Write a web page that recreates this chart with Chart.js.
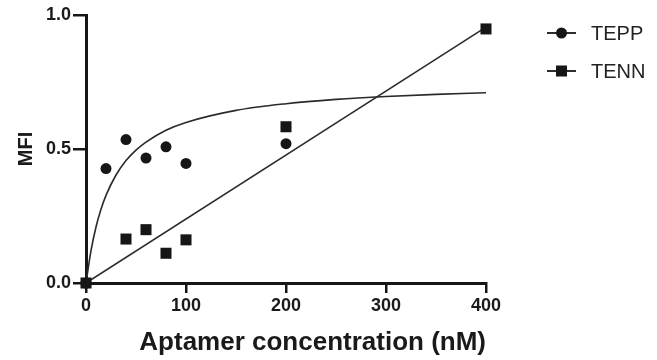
<!DOCTYPE html>
<html>
<head>
<meta charset="utf-8">
<script src="https://cdn.jsdelivr.net/npm/chart.js@4"></script>
<style>
  html, body { margin: 0; padding: 0; background: #fff; }
  #wrap { width: 657px; height: 360px; }
</style>
</head>
<body>
<div id="wrap"><canvas id="mfiChart" width="657" height="360"></canvas></div>
<script>
// measured points
const teppX = [0, 20, 40, 60, 80, 100, 200];
const teppY = [0, 0.427, 0.535, 0.466, 0.508, 0.446, 0.52];
const tennX = [0, 40, 60, 80, 100, 200, 400];
const tennY = [0, 0.164, 0.199, 0.111, 0.161, 0.583, 0.948];

// fitted curves
const teppFitX = [0, 5, 10, 15, 20, 30, 40, 50, 60, 80, 100, 150, 200, 250, 300, 350, 400];
const teppFitY = [0, 0.121, 0.209, 0.275, 0.327, 0.403, 0.457, 0.496, 0.526, 0.570, 0.599, 0.644, 0.669, 0.685, 0.696, 0.704, 0.710];
const tennFitX = [0, 400];
const tennFitY = [0, 0.955];

const xTicks = [0, 100, 200, 300, 400];
const yTicks = [0, 0.5, 1.0];
const yTickLabels = ['0.0', '0.5', '1.0'];
const seriesNames = ['TEPP', 'TENN'];

const ink = '#161616';
const pts = (xs, ys) => xs.map((x, i) => ({ x: x, y: ys[i] }));

// legend drawn at the right, like the original figure
const sideLegend = {
  id: 'sideLegend',
  afterDraw(chart) {
    const ctx = chart.ctx;
    const rows = [
      { name: seriesNames[0], style: 'circle', y: 33 },
      { name: seriesNames[1], style: 'rect', y: 71 }
    ];
    ctx.save();
    rows.forEach(r => {
      ctx.strokeStyle = ink;
      ctx.lineWidth = 1.8;
      ctx.beginPath();
      ctx.moveTo(547, r.y);
      ctx.lineTo(576, r.y);
      ctx.stroke();
      ctx.fillStyle = ink;
      if (r.style === 'circle') {
        ctx.beginPath();
        ctx.arc(561.5, r.y, 5.5, 0, Math.PI * 2);
        ctx.fill();
      } else {
        ctx.fillRect(556, r.y - 5.5, 11, 11);
      }
      ctx.fillStyle = '#222';
      ctx.font = '20px "Liberation Sans", Arial, sans-serif';
      ctx.textBaseline = 'middle';
      ctx.fillText(r.name, 591, r.y + 1);
    });
    ctx.restore();
  }
};

new Chart(document.getElementById('mfiChart').getContext('2d'), {
  type: 'scatter',
  data: {
    datasets: [
      {
        label: 'TEPP fit',
        data: pts(teppFitX, teppFitY),
        showLine: true,
        borderColor: '#2a2a2a',
        borderWidth: 1.6,
        pointRadius: 0,
        cubicInterpolationMode: 'monotone',
        order: 4
      },
      {
        label: 'TENN fit',
        data: pts(tennFitX, tennFitY),
        showLine: true,
        borderColor: '#2a2a2a',
        borderWidth: 1.6,
        pointRadius: 0,
        order: 3
      },
      {
        label: seriesNames[0],
        data: pts(teppX, teppY),
        pointStyle: 'circle',
        pointRadius: 5.5,
        backgroundColor: ink,
        borderColor: ink,
        borderWidth: 0,
        clip: false,
        order: 2
      },
      {
        label: seriesNames[1],
        data: pts(tennX, tennY),
        pointStyle: 'rect',
        pointRadius: 7.8,
        backgroundColor: ink,
        borderColor: ink,
        borderWidth: 0,
        clip: false,
        order: 1
      }
    ]
  },
  options: {
    responsive: false,
    animation: false,
    layout: { padding: { top: 15, right: 171, left: 0, bottom: 0 } },
    plugins: {
      legend: { display: false },
      tooltip: { enabled: false }
    },
    scales: {
      x: {
        type: 'linear',
        min: 0,
        max: 400,
        afterFit: s => { s.height = 77; },
        afterBuildTicks: s => { s.ticks = xTicks.map(v => ({ value: v })); },
        grid: { drawOnChartArea: false, drawTicks: true, tickLength: 10, color: ink, lineWidth: 2.5 },
        border: { display: true, color: ink, width: 3 },
        ticks: {
          color: '#1a1a1a',
          padding: 2,
          maxRotation: 0,
          font: { family: '"Liberation Sans", Arial, sans-serif', size: 18, weight: 'bold' }
        },
        title: {
          display: true,
          text: 'Aptamer concentration (nM)',
          align: 'end',
          color: '#1a1a1a',
          padding: { top: 0, bottom: 2 },
          font: { family: '"Liberation Sans", Arial, sans-serif', size: 26, weight: 'bold' }
        }
      },
      y: {
        min: 0,
        max: 1,
        afterFit: s => { s.width = 86; },
        afterBuildTicks: s => { s.ticks = yTicks.map(v => ({ value: v })); },
        grid: { drawOnChartArea: false, drawTicks: true, tickLength: 13, color: ink, lineWidth: 2.5 },
        border: { display: true, color: ink, width: 3 },
        ticks: {
          color: '#1a1a1a',
          padding: 2,
          callback: (v, i) => yTickLabels[i],
          font: { family: '"Liberation Sans", Arial, sans-serif', size: 18, weight: 'bold' }
        },
        title: {
          display: true,
          text: 'MFI',
          color: '#1a1a1a',
          padding: { top: 14, bottom: 0 },
          font: { family: '"Liberation Sans", Arial, sans-serif', size: 20, weight: 'bold' }
        }
      }
    }
  },
  plugins: [sideLegend]
});
</script>
</body>
</html>
